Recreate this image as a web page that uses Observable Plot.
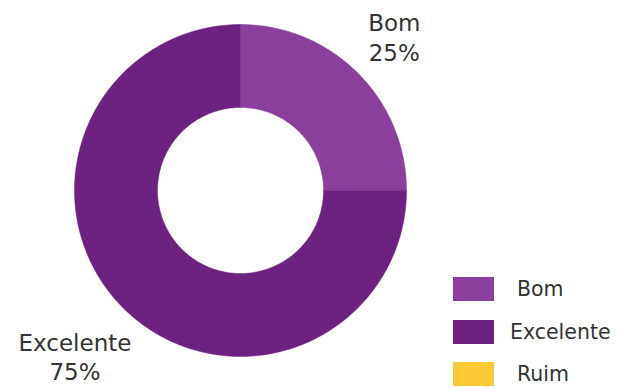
<!DOCTYPE html>
<html>
<head>
<meta charset="utf-8">
<script src="https://cdn.jsdelivr.net/npm/d3@7"></script>
<script src="https://cdn.jsdelivr.net/npm/@observablehq/plot@0.6"></script>
<style>
  html, body { margin: 0; padding: 0; background: #fff; }
  #wrap { position: relative; width: 624px; height: 388px; overflow: hidden; }
  #chart { position: absolute; left: 0; top: 0; }
  #legend { position: absolute; left: 453px; top: 277px; }
  .lg-swatches { font-family: "DejaVu Sans", sans-serif !important; font-size: 20.5px !important; color: #333 !important; margin: 0 !important; min-height: 0 !important; }
  .lg-swatches-columns { columns: 1 !important; }
  .lg-swatch { display: flex !important; align-items: center; height: 24px; margin: 0 0 18.5px 0 !important; padding: 0 !important; }
  .lg-swatch svg { margin-right: 23px !important; }
  .lg-swatch:nth-child(3) svg { margin-right: 16px !important; }
  .lg-swatch:nth-child(4) svg { margin-right: 23px !important; }
</style>
</head>
<body>
<div id="wrap"><div id="chart"></div><div id="legend"></div></div>
<script>
const categories = ["Bom", "Excelente", "Ruim"];
const values = [25, 75, 0];
const labels = ["Bom\n25%", "Excelente\n75%", "Ruim\n0%"];
const colors = ["#8a3f9d", "#6d2181", "#fcca36"];

const total = d3.sum(values);
const inner = 0.5;
// slice angles (clockwise from 12 o'clock)
let acc = 0;
const slices = categories.map((c, i) => {
  const a0 = acc / total * 2 * Math.PI;
  acc += values[i];
  const a1 = acc / total * 2 * Math.PI;
  return {cat: c, label: labels[i], value: values[i], a0, a1};
});
const pts = [];
for (const s of slices) {
  if (s.value <= 0) continue;
  const n = Math.max(2, Math.ceil((s.a1 - s.a0) / (Math.PI / 180)));
  for (let k = 0; k <= n; k++) {
    const a = s.a0 + (s.a1 - s.a0) * k / n;
    pts.push({cat: s.cat, x: Math.sin(a), y: Math.cos(a)});
  }
  for (let k = n; k >= 0; k--) {
    const a = s.a0 + (s.a1 - s.a0) * k / n;
    pts.push({cat: s.cat, x: inner * Math.sin(a), y: inner * Math.cos(a)});
  }
}
const shown = slices.filter(s => s.value > 0);
const lr = s => (s.a0 + s.a1) / 2 < Math.PI ? 1.31 : 1.41;

const chart = Plot.plot({
  width: 624,
  height: 388,
  margin: 0,
  x: {domain: [-1, 1], range: [74, 406], axis: null},
  y: {domain: [-1, 1], range: [356, 24], axis: null},
  color: {domain: categories, range: colors},
  style: {fontFamily: "'DejaVu Sans', sans-serif", background: "transparent"},
  marks: [
    Plot.line(pts, {x: "x", y: "y", z: "cat", fill: "cat", stroke: "cat", strokeWidth: 0.5, curve: "linear-closed"}),
    Plot.text(shown, {
      x: s => lr(s) * Math.sin((s.a0 + s.a1) / 2),
      y: s => lr(s) * Math.cos((s.a0 + s.a1) / 2),
      text: "label",
      fontSize: 23,
      lineHeight: 1.27,
      fill: "#333",
      textAnchor: "middle"
    })
  ]
});
document.getElementById("chart").appendChild(chart);

const legend = Plot.legend({
  color: {domain: categories, range: colors},
  legend: "swatches",
  columns: 1,
  swatchWidth: 41,
  swatchHeight: 24,
  className: "lg"
});
document.getElementById("legend").appendChild(legend);
</script>
</body>
</html>
